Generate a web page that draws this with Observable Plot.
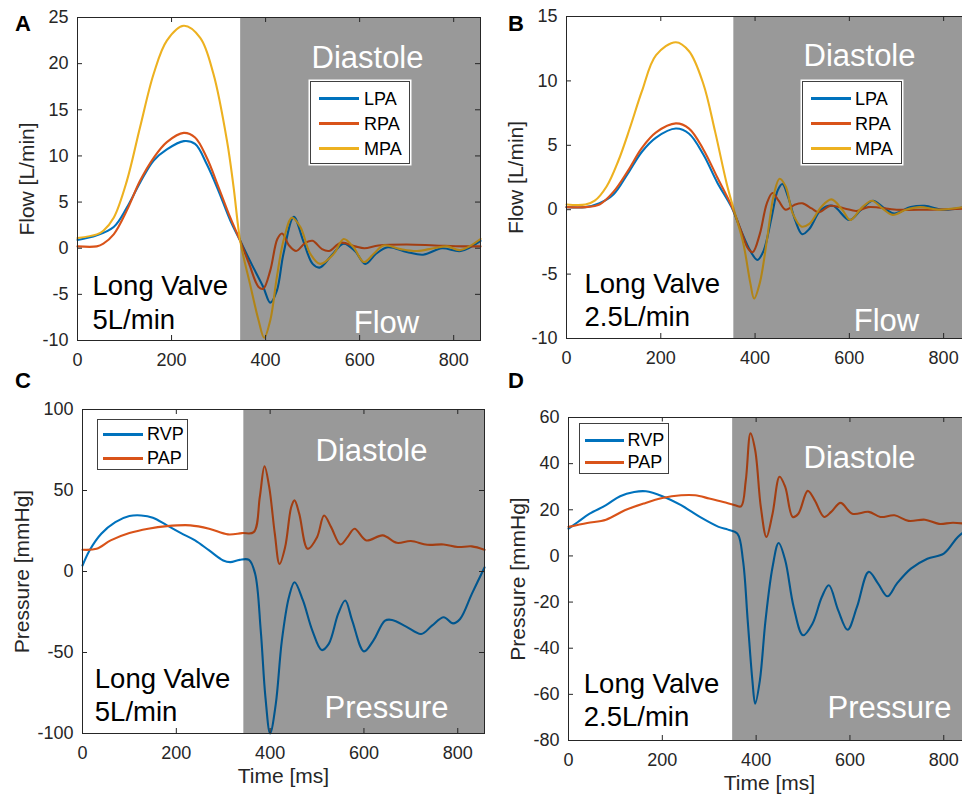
<!DOCTYPE html>
<html>
<head>
<meta charset="utf-8">
<script src="https://cdn.jsdelivr.net/npm/d3@7"></script>
<script src="https://cdn.jsdelivr.net/npm/@observablehq/plot@0.6"></script>
<style>
  html, body { margin: 0; padding: 0; background: #fff; }
  body { font-family: "Liberation Sans", Arial, Helvetica, sans-serif; }
  #root { position: relative; width: 962px; height: 803px; overflow: hidden; background: #fff; }
  .panel { position: absolute; }
  .panel svg { display: block; overflow: visible; max-width: none !important; }
  .letter { position: absolute; font-weight: bold; font-size: 22px; line-height: 22px; color: #000; }
  .legend { position: absolute; background: #fff; border: 1px solid #404040; box-sizing: border-box; box-shadow: 0 0 0 1.5px #fff; }
  .legend .sw { position: absolute; height: 3px; margin-top: -1.5px; }
  .legend .lb { position: absolute; font-size: 18px; line-height: 18px; margin-top: -9px; color: #000; white-space: nowrap; }
</style>
</head>
<body>
<div id="root"></div>
<script>
// ---------------- DATA ----------------
const xTicks = [0, 200, 400, 600, 800];
const timeMax = 857;

// Panel A : Flow, Long Valve 5 L/min  ([time ms, flow L/min])
const A_LPA = [[0,0.9],[41,1.4],[77,2.3],[105,4.4],[133,7.1],[162,9.5],[190,10.7],[226,11.6],[250,11.3],[275,9.1],[300,6.2],[325,3.0],[346,0.8],[370,-1.7],[395,-4.2],[410,-5.9],[424,-4.6],[438,-0.6],[460,3.4],[480,0.8],[500,-1.7],[515,-2.1],[540,-0.8],[566,0.5],[590,-0.3],[612,-1.7],[635,-0.6],[660,0.1],[700,-0.4],[735,-0.7],[775,0.0],[815,-0.3],[857,0.8]];
const A_RPA = [[0,0.2],[41,0.2],[55,0.5],[77,1.5],[105,4.1],[133,7.3],[162,9.8],[190,11.5],[226,12.5],[250,12.0],[275,9.8],[300,6.6],[325,3.3],[346,0.8],[365,-1.7],[385,-4.2],[395,-4.4],[410,-2.4],[425,1.0],[435,1.6],[450,0.3],[465,-0.3],[485,0.6],[500,0.8],[520,-0.1],[535,-0.3],[560,0.6],[590,0.2],[610,0.0],[640,0.3],[700,0.4],[760,0.3],[820,0.2],[857,0.2]];
const A_MPA = [[0,1.1],[41,1.5],[55,1.9],[77,3.3],[105,7.3],[133,13.1],[162,18.9],[190,22.5],[226,24.1],[261,22.8],[289,18.9],[318,11.6],[332,6.6],[346,0.8],[367,-3.9],[385,-7.8],[397,-9.7],[410,-7.8],[424,-3.1],[438,0.8],[456,3.3],[474,2.3],[495,-0.6],[516,-1.7],[545,-0.6],[566,1.0],[587,0.1],[609,-1.5],[630,-0.6],[651,0.3],[687,-0.1],[722,-0.3],[757,0.0],[786,0.2],[814,-0.2],[857,1.0]];

// Panel B : Flow, Long Valve 2.5 L/min
const B_LPA = [[0,0.2],[40,0.2],[70,0.5],[100,1.2],[130,2.8],[160,4.5],[190,5.6],[232,6.3],[260,5.9],[290,4.3],[320,2.1],[350,0.2],[370,-1.6],[390,-3.2],[405,-3.9],[418,-3.2],[435,-0.6],[448,1.5],[458,2.0],[470,1.0],[485,-0.8],[500,-1.9],[515,-1.5],[540,0.0],[565,0.3],[600,-0.8],[625,0.0],[650,0.7],[675,0.1],[695,-0.3],[730,0.2],[760,0.3],[800,0.0],[857,0.3]];
const B_RPA = [[0,0.2],[40,0.2],[70,0.4],[100,1.4],[130,3.0],[160,4.8],[190,6.0],[232,6.7],[260,6.3],[290,4.7],[320,2.5],[350,0.3],[370,-1.6],[385,-3.0],[395,-3.3],[410,-1.9],[425,0.5],[437,1.3],[450,0.7],[465,0.0],[485,0.4],[500,0.5],[520,0.1],[535,-0.2],[560,0.3],[590,0.1],[615,-0.1],[640,0.2],[700,0.0],[760,0.0],[857,0.1]];
const B_MPA = [[0,0.4],[40,0.4],[60,0.7],[85,1.8],[110,3.8],[135,6.4],[160,9.2],[190,12.0],[232,13.0],[260,12.3],[290,9.8],[315,6.1],[340,2.0],[355,0.0],[375,-2.6],[390,-5.7],[398,-6.9],[410,-5.7],[425,-2.4],[440,1.2],[452,2.4],[465,1.8],[480,-0.3],[498,-1.3],[515,-1.1],[540,0.2],[562,0.8],[585,0.0],[602,-0.8],[625,0.1],[648,0.7],[670,0.1],[692,-0.4],[720,0.0],[750,0.2],[790,0.0],[857,0.3]];

// Panel C : Pressure, Long Valve 5 L/min ([time ms, pressure mmHg])
const C_RVP = [[0,3.7],[15,13],[40,23.3],[70,30.5],[100,34.2],[125,34.6],[150,33.2],[180,28.5],[210,23.7],[240,19.2],[270,13.0],[300,6.8],[315,5.8],[335,7.2],[355,7.2],[368,-1.4],[380,-36.5],[390,-77.7],[400,-100],[412,-81.9],[425,-42.7],[440,-15.9],[452,-6.6],[470,-17.9],[490,-36.5],[510,-48.5],[525,-44.7],[545,-26.2],[560,-17.9],[575,-30.3],[600,-49.3],[620,-42.7],[645,-30.3],[660,-29.9],[690,-34.0],[722,-38.6],[745,-33.4],[770,-28.2],[790,-32.0],[805,-29.3],[830,-13.8],[857,2.5]];
const C_PAP = [[0,13.4],[30,14.0],[60,19.2],[100,23.7],[140,26.4],[180,28.0],[230,28.5],[270,26.4],[310,22.9],[340,23.7],[365,24.3],[378,46],[388,65],[398,52.2],[410,23.3],[420,4.7],[432,15.1],[445,39.8],[452,43.9],[462,35.7],[480,14.0],[500,21.2],[515,34.6],[530,27.4],[550,16.7],[565,21.2],[580,26.4],[605,19.2],[640,22.3],[670,17.7],[700,18.8],[735,16.5],[770,16.7],[800,15.1],[830,15.5],[857,13.4]];

// Panel D : Pressure, Long Valve 2.5 L/min
const D_RVP = [[0,11.8],[20,14.7],[45,18.3],[80,22.0],[110,25.9],[140,27.7],[165,28.0],[200,25.9],[240,22.0],[280,16.9],[320,12.6],[340,11.4],[360,9.7],[372,-1.9],[382,-27.9],[392,-53.9],[398,-64],[408,-53.9],[420,-27.9],[435,-4.8],[448,5.6],[462,-1.9],[480,-22.1],[500,-34.4],[520,-29.4],[540,-17.8],[555,-12.7],[575,-23.6],[595,-32],[615,-22.1],[640,-6.9],[660,-12.0],[680,-17.5],[700,-12.0],[730,-5.5],[765,-1.2],[800,1.0],[830,8.2],[857,12.5]];
const D_PAP = [[0,12.6],[40,14.3],[80,15.7],[120,19.8],[160,22.7],[200,25.1],[240,26.3],[270,26.3],[300,24.9],[330,23.4],[355,22.0],[368,21.5],[378,32.8],[388,53.1],[398,45.8],[410,21.2],[422,8.2],[435,18.3],[450,34.3],[462,29.9],[478,16.9],[490,18.3],[510,28.2],[525,24.1],[545,16.9],[560,19.1],[580,23.0],[605,18.3],[640,19.1],[665,16.9],[695,17.6],[725,15.2],[760,15.7],[790,13.9],[820,14.4],[857,13.6]];

// Axis ticks, diastole start (ms) per panel
const yTicksA = [-10, -5, 0, 5, 10, 15, 20, 25];
const yTicksB = [-10, -5, 0, 5, 10, 15];
const yTicksC = [-100, -50, 0, 50, 100];
const yTicksD = [-80, -60, -40, -20, 0, 20, 40, 60];
const diastoleStart = {A: 347, B: 355, C: 344, D: 350};

// Series names & colours
const flowNames = ["LPA", "RPA", "MPA"];
const pressureNames = ["RVP", "PAP"];
const colors = {LPA: "#0072BD", RPA: "#D95319", MPA: "#EDB120", RVP: "#0072BD", PAP: "#D95319"};

// ---------------- RENDER ----------------
const root = document.getElementById("root");
const FONT = "Liberation Sans, Arial, Helvetica, sans-serif";
const AXIS = "#262626";

function toRows(pairs) { return pairs.map(([t, v]) => ({t, v})); }

function makePanel(cfg) {
  const {left, top, width, height, m, yTicks, series, names, diast, ylabel, ylabelDx, xlabel, texts} = cfg;
  const yDomain = [yTicks[0], yTicks[yTicks.length - 1]];
  const plotW = width - m.l - m.r;
  const plotH = height - m.t - m.b;
  const shade = [{x1: diast, x2: timeMax, y1: yDomain[0], y2: yDomain[1]}];
  const marks = [
    Plot.rect(shade, {x1: "x1", x2: "x2", y1: "y1", y2: "y2", fill: "#cdcdcd"}),
    ...names.map((n) => Plot.line(toRows(series[n]), {x: "t", y: "v", stroke: colors[n], strokeWidth: 2.1, curve: "catmull-rom"})),
    Plot.rect(shade, {x1: "x1", x2: "x2", y1: "y1", y2: "y2", fill: "#000", fillOpacity: 0.25}),
    Plot.frame({stroke: AXIS, strokeWidth: 1}),
    Plot.tickX(xTicks, {x: (d) => d, insetTop: plotH - 5, stroke: AXIS}),
    Plot.tickX(xTicks, {x: (d) => d, insetBottom: plotH - 5, stroke: AXIS}),
    Plot.tickY(yTicks, {y: (d) => d, insetLeft: plotW - 5, stroke: AXIS}),
    Plot.tickY(yTicks, {y: (d) => d, insetRight: plotW - 5, stroke: AXIS}),
    Plot.axisX({ticks: xTicks, tickSize: 0, tickPadding: 13, tickFormat: (d) => `${d}`, label: null, fontSize: 18, fill: AXIS}),
    Plot.axisY({ticks: yTicks, tickSize: 0, tickPadding: 9, tickFormat: (d) => `${d}`, label: null, fontSize: 18, fill: AXIS}),
    Plot.text([ylabel], {text: (d) => d, frameAnchor: "left", rotate: -90, dx: ylabelDx, fontSize: 21, fill: AXIS, textAnchor: "middle"})
  ];
  if (xlabel) marks.push(Plot.text([xlabel], {text: (d) => d, frameAnchor: "bottom", dy: 49, fontSize: 21, fill: AXIS}));
  for (const tx of texts) {
    marks.push(Plot.text([tx.s], {text: (d) => d, frameAnchor: "top-left", dx: tx.dx, dy: tx.dy, fontSize: tx.size, fill: tx.fill, textAnchor: tx.anchor}));
  }
  const svg = Plot.plot({
    width, height,
    marginLeft: m.l, marginRight: m.r, marginTop: m.t, marginBottom: m.b,
    style: {fontFamily: FONT, fontSize: "18px", background: "transparent", overflow: "visible", maxWidth: "none"},
    x: {domain: [0, timeMax]},
    y: {domain: yDomain},
    marks
  });
  svg.style.maxWidth = "none";
  svg.style.width = width + "px";
  svg.style.height = height + "px";
  const div = document.createElement("div");
  div.className = "panel";
  div.style.left = left + "px";
  div.style.top = top + "px";
  div.style.width = width + "px";
  div.style.height = height + "px";
  div.appendChild(svg);
  root.appendChild(div);
}

function makeLegend(cfg) {
  const box = document.createElement("div");
  box.className = "legend";
  Object.assign(box.style, {left: cfg.left + "px", top: cfg.top + "px", width: cfg.w + "px", height: cfg.h + "px"});
  cfg.names.forEach((n, i) => {
    const sw = document.createElement("div");
    sw.className = "sw";
    Object.assign(sw.style, {left: cfg.lx0 + "px", width: (cfg.lx1 - cfg.lx0) + "px", top: cfg.rows[i] + "px", background: colors[n]});
    const lb = document.createElement("div");
    lb.className = "lb";
    lb.textContent = n;
    Object.assign(lb.style, {left: cfg.tx + "px", top: cfg.rows[i] + "px"});
    box.appendChild(sw);
    box.appendChild(lb);
  });
  root.appendChild(box);
}

function makeLetter(s, left, top) {
  const d = document.createElement("div");
  d.className = "letter";
  d.textContent = s;
  d.style.left = left + "px";
  d.style.top = top + "px";
  root.appendChild(d);
}

const W = "#ffffff", K = "#000000";

makePanel({
  left: 0, top: 0, width: 490, height: 380, m: {l: 77, r: 10, t: 17, b: 40},
  yTicks: yTicksA, series: {LPA: A_LPA, RPA: A_RPA, MPA: A_MPA}, names: flowNames, diast: diastoleStart.A,
  ylabel: "Flow [L/min]", ylabelDx: -50, xlabel: null,
  texts: [
    {s: "Diastole", dx: 290, dy: 28.4, size: 31, fill: W, anchor: "middle"},
    {s: "Flow", dx: 309, dy: 293, size: 31, fill: W, anchor: "middle"},
    {s: "Long Valve", dx: 15, dy: 258.4, size: 27.5, fill: K, anchor: "start"},
    {s: "5L/min", dx: 15, dy: 292.4, size: 27.5, fill: K, anchor: "start"}
  ]
});
makePanel({
  left: 490, top: 0, width: 490, height: 380, m: {l: 76, r: 10, t: 16, b: 42},
  yTicks: yTicksB, series: {LPA: B_LPA, RPA: B_RPA, MPA: B_MPA}, names: flowNames, diast: diastoleStart.B,
  ylabel: "Flow [L/min]", ylabelDx: -50, xlabel: null,
  texts: [
    {s: "Diastole", dx: 293, dy: 27, size: 31, fill: W, anchor: "middle"},
    {s: "Flow", dx: 320, dy: 292.7, size: 31, fill: W, anchor: "middle"},
    {s: "Long Valve", dx: 18, dy: 257, size: 27.5, fill: K, anchor: "start"},
    {s: "2.5L/min", dx: 18, dy: 290.4, size: 27.5, fill: K, anchor: "start"}
  ]
});
makePanel({
  left: 0, top: 380, width: 490, height: 423, m: {l: 82, r: 6, t: 29, b: 70},
  yTicks: yTicksC, series: {RVP: C_RVP, PAP: C_PAP}, names: pressureNames, diast: diastoleStart.C,
  ylabel: "Pressure [mmHg]", ylabelDx: -60, xlabel: "Time [ms]",
  texts: [
    {s: "Diastole", dx: 289, dy: 29.7, size: 31, fill: W, anchor: "middle"},
    {s: "Pressure", dx: 304, dy: 286.4, size: 31, fill: W, anchor: "middle"},
    {s: "Long Valve", dx: 12.3, dy: 259, size: 27.5, fill: K, anchor: "start"},
    {s: "5L/min", dx: 12.3, dy: 292.4, size: 27.5, fill: K, anchor: "start"}
  ]
});
makePanel({
  left: 490, top: 380, width: 490, height: 423, m: {l: 78, r: 10, t: 37, b: 63},
  yTicks: yTicksD, series: {RVP: D_RVP, PAP: D_PAP}, names: pressureNames, diast: diastoleStart.D,
  ylabel: "Pressure [mmHg]", ylabelDx: -50, xlabel: "Time [ms]",
  texts: [
    {s: "Diastole", dx: 291, dy: 28.4, size: 31, fill: W, anchor: "middle"},
    {s: "Pressure", dx: 321, dy: 278.4, size: 31, fill: W, anchor: "middle"},
    {s: "Long Valve", dx: 15.3, dy: 256, size: 27.5, fill: K, anchor: "start"},
    {s: "2.5L/min", dx: 15.3, dy: 289.4, size: 27.5, fill: K, anchor: "start"}
  ]
});

makeLegend({left: 310, top: 81, w: 100, h: 83, names: flowNames, rows: [16.7, 41.7, 66.7], lx0: 8, lx1: 48, tx: 53});
makeLegend({left: 802, top: 81, w: 100, h: 83, names: flowNames, rows: [16.7, 41.7, 66.7], lx0: 8, lx1: 48, tx: 52});
makeLegend({left: 97, top: 419, w: 91, h: 51, names: pressureNames, rows: [14, 38], lx0: 5, lx1: 45, tx: 49});
makeLegend({left: 579, top: 423, w: 90, h: 51, names: pressureNames, rows: [16, 38], lx0: 5, lx1: 44, tx: 47.5});

makeLetter("A", 15, 13);
makeLetter("B", 508, 13);
makeLetter("C", 15, 370);
makeLetter("D", 508, 370);
</script>
</body>
</html>
